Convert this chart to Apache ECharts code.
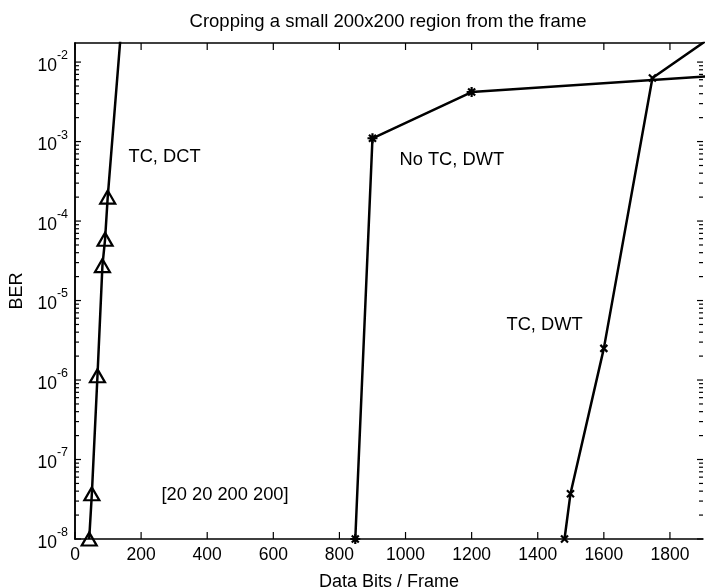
<!DOCTYPE html>
<html>
<head>
<meta charset="utf-8">
<script src="https://cdn.jsdelivr.net/npm/echarts@6/dist/echarts.min.js"></script>
<style>html,body{margin:0;padding:0;background:#fff}#c{width:717px;height:588px}</style>
</head>
<body>
<div id="c"></div>
<script>
// Data
var tcDct = [[43, 1e-8], [51, 3.7e-8], [68, 1.13e-6], [83, 2.75e-5], [91, 5.9e-5], [99, 2.0e-4], [150, 0.09]];
var noTcDwt = [[848, 1e-8], [900, 1.1e-3], [1200, 4.2e-3], [2000, 7.0e-3]];
var tcDwt = [[1481, 1e-8], [1499, 3.7e-8], [1600, 2.5e-6], [1747, 6.3e-3], [2000, 0.034]];
var xTicks = [0, 200, 400, 600, 800, 1000, 1200, 1400, 1600, 1800];
var yDecades = [-8, -7, -6, -5, -4, -3, -2];
var minorMult = [2, 3, 4, 5, 6, 7, 8, 9];
var xMin = 0, xMax = 1900;
var yMin = 1e-8, yMax = Math.pow(10, -1.76);

var minorVals = [];
yDecades.forEach(function (d) {
  minorMult.forEach(function (m) {
    var v = m * Math.pow(10, d);
    if (v < yMax) minorVals.push([v]);
  });
});

var FONT = 'Liberation Sans, Arial, sans-serif';
var chart = echarts.init(document.getElementById('c'), null, {renderer: 'canvas'});

var lineCommon = {
  type: 'line',
  clip: true,
  xAxisIndex: 0, yAxisIndex: 0,
  lineStyle: {color: '#000', width: 2.5},
  emphasis: {disabled: true},
  animation: false
};

var TICK_W = 1.2;
function hTick(x, y, len) {
  return {type: 'line', shape: {x1: x, y1: y, x2: x + len, y2: y}, style: {stroke: '#000', lineWidth: TICK_W}};
}
function vTick(x, y, len) {
  return {type: 'line', shape: {x1: x, y1: y, x2: x, y2: y + len}, style: {stroke: '#000', lineWidth: TICK_W}};
}

chart.setOption({
  backgroundColor: '#fff',
  animation: false,
  grid: {left: 75, right: 14, top: 43, bottom: 49, containLabel: false, outerBoundsMode: 'none'},
  xAxis: [{
    type: 'value', min: xMin, max: xMax, interval: 200,
    name: 'Data Bits / Frame', nameLocation: 'middle', nameGap: 34,
    nameTextStyle: {fontFamily: FONT, fontSize: 18, color: '#000'},
    axisLine: {lineStyle: {color: '#000', width: 1.5}},
    axisTick: {show: false},
    axisLabel: {fontFamily: FONT, fontSize: 17.5, color: '#000', margin: 7,
      showMaxLabel: false,
      formatter: function (v) { return xTicks.indexOf(v) >= 0 ? String(v) : ''; }},
    splitLine: {show: false}
  }, {
    type: 'value', min: xMin, max: xMax, interval: 200, position: 'top',
    axisLine: {lineStyle: {color: '#000', width: 1.5}},
    axisTick: {show: false},
    axisLabel: {show: false},
    splitLine: {show: false}
  }],
  yAxis: [{
    type: 'log', logBase: 10, min: yMin, max: yMax,
    name: 'BER', nameLocation: 'middle', nameGap: 48,
    nameTextStyle: {fontFamily: FONT, fontSize: 18, color: '#000'},
    axisLine: {lineStyle: {color: '#000', width: 1.5}},
    axisTick: {show: false},
    axisLabel: {
      showMaxLabel: false, margin: 7,
      formatter: function (v) {
        var e = Math.round(Math.log10(v));
        if (Math.abs(Math.log10(v) - e) > 1e-6) return '';
        return '{b|10}{s|' + e + '}';
      },
      rich: {
        b: {fontFamily: FONT, fontSize: 17.5, color: '#000', verticalAlign: 'bottom', lineHeight: 26},
        s: {fontFamily: FONT, fontSize: 12.5, color: '#000', verticalAlign: 'top', lineHeight: 26}
      }
    },
    splitLine: {show: false}
  }, {
    type: 'log', logBase: 10, min: yMin, max: yMax, position: 'right',
    axisLine: {lineStyle: {color: '#000', width: 1.5}},
    axisTick: {show: false},
    axisLabel: {show: false},
    splitLine: {show: false}
  }],
  series: [
    Object.assign({}, lineCommon, {
      name: 'TC, DCT', data: tcDct,
      symbol: 'triangle', symbolSize: [15, 13], showAllSymbol: true,
      itemStyle: {color: 'rgba(0,0,0,0)', borderColor: '#000', borderWidth: 2.2}
    }),
    Object.assign({}, lineCommon, {
      name: 'No TC, DWT', data: noTcDwt,
      symbol: 'path://M5,0L5,10M0,5L10,5M1.5,1.5L8.5,8.5M8.5,1.5L1.5,8.5', symbolSize: 10,
      itemStyle: {color: '#000', borderColor: '#000', borderWidth: 2.2}
    }),
    Object.assign({}, lineCommon, {
      name: 'TC, DWT', data: tcDwt,
      symbol: 'path://M0,0L10,10M10,0L0,10', symbolSize: 7,
      itemStyle: {color: '#000', borderColor: '#000', borderWidth: 2.2}
    }),
    {
      // minor log ticks on left and right edges
      type: 'custom', name: 'minorTicksY', data: minorVals, silent: true, z: 10,
      xAxisIndex: 0, yAxisIndex: 0,
      dimensions: ['y'], encode: {y: 0},
      renderItem: function (params, api) {
        var v = api.value(0);
        var pl = api.coord([xMin, v]);
        var pr = api.coord([xMax, v]);
        return {type: 'group', children: [hTick(pl[0], pl[1], 4), hTick(pr[0], pr[1], -4)]};
      }
    },
    {
      // major decade ticks on left and right edges
      type: 'custom', name: 'majorTicksY', data: yDecades.map(function (d) { return [Math.pow(10, d)]; }),
      silent: true, z: 10, xAxisIndex: 0, yAxisIndex: 0,
      dimensions: ['y'], encode: {y: 0},
      renderItem: function (params, api) {
        var v = api.value(0);
        var pl = api.coord([xMin, v]);
        var pr = api.coord([xMax, v]);
        return {type: 'group', children: [hTick(pl[0], pl[1], 6), hTick(pr[0], pr[1], -6)]};
      }
    },
    {
      // x ticks on bottom and top edges
      type: 'custom', name: 'ticksX', data: xTicks.map(function (t) { return [t]; }),
      silent: true, z: 10, xAxisIndex: 0, yAxisIndex: 0,
      dimensions: ['x'], encode: {x: 0},
      renderItem: function (params, api) {
        var v = api.value(0);
        var pb = api.coord([v, yMin]);
        var pt = api.coord([v, yMax]);
        return {type: 'group', children: [vTick(pb[0], pb[1], -7), vTick(pt[0], pt[1], 7)]};
      }
    }
  ],
  graphic: [
    {type: 'text', x: 388, y: 22, style: {text: 'Cropping a small 200x200 region from the frame', fontFamily: FONT, fontSize: 18.5, fill: '#000', align: 'center', verticalAlign: 'middle'}},
    {type: 'text', x: 128.5, y: 157, style: {text: 'TC, DCT', fontFamily: FONT, fontSize: 18.3, fill: '#000', verticalAlign: 'middle'}},
    {type: 'text', x: 399.5, y: 160, style: {text: 'No TC, DWT', fontFamily: FONT, fontSize: 18.3, fill: '#000', verticalAlign: 'middle'}},
    {type: 'text', x: 506.5, y: 325, style: {text: 'TC, DWT', fontFamily: FONT, fontSize: 18.3, fill: '#000', verticalAlign: 'middle'}},
    {type: 'text', x: 161.5, y: 495, style: {text: '[20 20 200 200]', fontFamily: FONT, fontSize: 18.3, fill: '#000', verticalAlign: 'middle'}}
  ]
});
</script>
</body>
</html>
